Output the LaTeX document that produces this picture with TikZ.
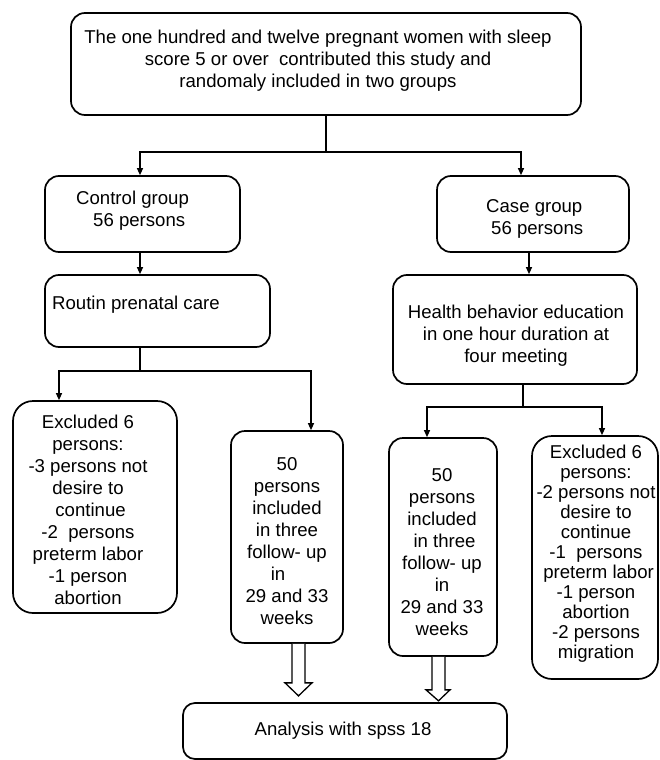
\documentclass[tikz,border=0pt]{standalone}
\usepackage{fontspec}
\setmainfont{Liberation Sans}
\usetikzlibrary{arrows.meta,calc}
\begin{document}
\begin{tikzpicture}[x=1pt,y=-1pt,
  box/.style={draw, rounded corners=14pt, line width=1.7pt, inner sep=0pt},
  txt/.style={font=\fontsize{18.6}{22}\selectfont, inner sep=0pt, align=center},
  conn/.style={line width=1.2pt},
  arr/.style={conn, -{Triangle[length=7pt,width=6pt]}},
  hollow/.style={line width=1.3pt, fill=white}]
\useasboundingbox (0,0) rectangle (659,760);

% boxes
\node[box, minimum width=510pt, minimum height=102pt] (top) at (326,64) {};
\node[box, minimum width=195pt, minimum height=76pt] (ctrl) at (142.5,214) {};
\node[box, minimum width=192pt, minimum height=76pt] (case) at (533,214) {};
\node[box, minimum width=225pt, minimum height=72pt] (routin) at (157.5,311) {};
\node[box, minimum width=244pt, minimum height=109pt] (health) at (515,329.5) {};
\node[box, rounded corners=20pt, minimum width=164pt, minimum height=212pt] (exL) at (95,507) {};
\node[box, minimum width=112pt, minimum height=212pt] (inL) at (287,537) {};
\node[box, minimum width=108pt, minimum height=218pt] (inR) at (443,547) {};
\node[box, rounded corners=20pt, minimum width=126pt, minimum height=243pt] (exR) at (595,557.5) {};
\node[box, rounded corners=12pt, minimum width=324pt, minimum height=56pt] (ana) at (345,731) {};

% texts
\node[txt] (ttop) at (318,61) {The one hundred and twelve pregnant women with sleep\\score 5 or over\ \ contributed this study and\\randomaly included in two groups};
\node[txt, align=left, anchor=west] (tctrl) at (76,211) {Control group\\\hspace*{17pt}56 persons};
\node[txt, align=left, anchor=west] (tcase) at (486,219) {Case group\\\hspace*{5pt}56 persons};
\node[txt, anchor=west] (troutin) at (52,305) {Routin prenatal care};
\node[txt] (thealth) at (516,336) {Health behavior education\\in one hour duration at\\four meeting};
\node[txt] (texL) at (88,510) {Excluded 6\\persons:\\-3 persons not\\desire to\\\ continue\\-2\ \ persons\\preterm labor\\-1 person\\abortion};
\node[txt] (tinL) at (287,541.5) {50\\persons\\included\\in three\\follow- up\\in\hspace*{18pt}\mbox{}\\29 and 33\\weeks};
\node[txt] (tinR) at (442,552.5) {50\\persons\\included\\\ in three\\follow- up\\in\\29 and 33\\weeks};
\node[txt, font=\fontsize{18.6}{20}\selectfont] (texR) at (596,553.5) {Excluded 6\\persons:\\-2 persons not\\desire to\\continue\\-1\ \ persons\\\ preterm labor\\-1 person\\abortion\\-2 persons\\migration};
\node[txt] (tana) at (343,731) {Analysis with spss 18};

% junction coordinates
\coordinate (jL) at (140,152);
\coordinate (jR) at (521,152);
\coordinate (kL) at (59,371);
\coordinate (kR) at (311,371);
\coordinate (mL) at (427,407);
\coordinate (mR) at (602,407);

% connectors
\draw[arr] (top.south) |- (jL) -- (jL |- ctrl.north);
\draw[arr] (top.south) |- (jR) -- (jR |- case.north);
\draw[arr] ([xshift=-2.5pt]ctrl.south) -- ([xshift=-2.5pt]ctrl.south |- routin.north);
\draw[arr] ([xshift=-4pt]case.south) -- ([xshift=-4pt]case.south |- health.north);
\draw[arr] ([xshift=-17.5pt]routin.south) |- (kL) -- (kL |- exL.north);
\draw[arr] ([xshift=-17.5pt]routin.south) |- (kR) -- (kR |- inL.north);
\draw[arr] ([xshift=8pt]health.south) |- (mL) -- (mL |- inR.north);
\draw[arr] ([xshift=8pt]health.south) |- (mR) -- (mR |- exR.north);

% hollow arrows to analysis
\draw[hollow] ([shift={(5,0)}]inL.south) -- ([shift={(5,39)}]inL.south) -- ([shift={(-2,39)}]inL.south)
  -- ([shift={(11.5,52)}]inL.south) -- ([shift={(25,39)}]inL.south) -- ([shift={(18,39)}]inL.south) -- ([shift={(18,0)}]inL.south);
\draw[hollow] ([shift={(-11,0)}]inR.south) -- ([shift={(-11,33)}]inR.south) -- ([shift={(-17,33)}]inR.south)
  -- ([shift={(-4.5,44)}]inR.south) -- ([shift={(7,33)}]inR.south) -- ([shift={(2,33)}]inR.south) -- ([shift={(2,0)}]inR.south);
\end{tikzpicture}
\end{document}
